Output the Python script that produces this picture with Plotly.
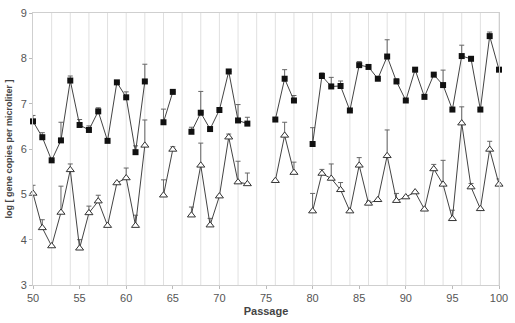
import plotly.graph_objects as go

passage = list(range(50, 101))

# Square series (upper) and triangle series (lower); missing passages are absent
sq_vals = {
    50: 6.61, 51: 6.26, 52: 5.75, 53: 6.19, 54: 7.51, 55: 6.53, 56: 6.42, 57: 6.83,
    58: 6.18, 59: 7.47, 60: 7.14, 61: 5.93, 62: 7.49, 64: 6.59, 65: 7.26,
    67: 6.38, 68: 6.80, 69: 6.44, 70: 6.86, 71: 7.71, 72: 6.63, 73: 6.56,
    76: 6.65, 77: 7.55, 78: 7.07, 80: 6.11, 81: 7.61, 82: 7.38, 83: 7.39,
    84: 6.85, 85: 7.85, 86: 7.81, 87: 7.55, 88: 8.04, 89: 7.49, 90: 7.07,
    91: 7.75, 92: 7.15, 93: 7.64, 94: 7.41, 95: 6.87, 96: 8.05, 97: 7.99,
    98: 6.87, 99: 8.49, 100: 7.75,
}
sq_err = {
    50: 0.13, 51: 0.10, 53: 0.40, 54: 0.10, 55: 0.12, 56: 0.09, 57: 0.08,
    60: 0.12, 61: 0.14, 62: 0.38, 64: 0.29, 67: 0.10, 68: 0.47, 72: 0.35,
    73: 0.14, 77: 0.20, 78: 0.11, 80: 0.36, 81: 0.07, 82: 0.20, 83: 0.11,
    85: 0.08, 88: 0.37, 89: 0.06, 94: 0.33, 96: 0.24, 99: 0.09,
}
tri_vals = {
    50: 5.02, 51: 4.26, 52: 3.86, 53: 4.60, 54: 5.54, 55: 3.81, 56: 4.59, 57: 4.85,
    58: 4.31, 59: 5.25, 60: 5.36, 61: 4.31, 62: 6.08, 64: 4.98, 65: 5.99,
    67: 4.54, 68: 5.64, 69: 4.32, 70: 4.96, 71: 6.26, 72: 5.27, 73: 5.23,
    76: 5.30, 77: 6.30, 78: 5.48, 80: 4.63, 81: 5.46, 82: 5.35, 83: 5.10,
    84: 4.63, 85: 5.64, 86: 4.80, 87: 4.88, 88: 5.85, 89: 4.86, 90: 4.94,
    91: 5.05, 92: 4.67, 93: 5.56, 94: 5.22, 95: 4.46, 96: 6.57, 97: 5.16,
    98: 4.68, 99: 5.99, 100: 5.22,
}
tri_err = {
    50: 0.18, 51: 0.18, 53: 0.58, 54: 0.13, 55: 0.19, 56: 0.15, 57: 0.13,
    60: 0.22, 61: 0.23, 62: 0.56, 64: 0.34, 65: 0.06, 67: 0.18, 68: 0.49,
    69: 0.15, 71: 0.07, 72: 0.46, 73: 0.24, 77: 0.29, 78: 0.23, 80: 0.39,
    81: 0.09, 82: 0.32, 83: 0.16, 85: 0.17, 86: 0.05, 88: 0.57, 89: 0.16,
    93: 0.10, 94: 0.53, 95: 0.19, 96: 0.36, 97: 0.08, 99: 0.18, 100: 0.12,
}

x_ticks = [50, 55, 60, 65, 70, 75, 80, 85, 90, 95, 100]
y_ticks = [3, 4, 5, 6, 7, 8, 9]

sq_y = [sq_vals.get(p) for p in passage]
sq_e = [sq_err.get(p, 0) for p in passage]
tri_y = [tri_vals.get(p) for p in passage]
tri_e = [tri_err.get(p, 0) for p in passage]
zeros = [0] * len(passage)

fig = go.Figure()
err_style = dict(type="data", symmetric=False, color="#666666", thickness=1, width=2.5)

fig.add_trace(go.Scatter(
    x=passage, y=tri_y, mode="lines+markers", connectgaps=False, cliponaxis=False,
    line=dict(color="#444444", width=1),
    marker=dict(symbol="triangle-up", size=7, color="white",
                line=dict(color="#333333", width=1)),
    error_y=dict(array=tri_e, arrayminus=zeros, **err_style),
    showlegend=False,
))
fig.add_trace(go.Scatter(
    x=passage, y=sq_y, mode="lines+markers", connectgaps=False, cliponaxis=False,
    line=dict(color="#444444", width=1),
    marker=dict(symbol="square", size=6, color="#111111",
                line=dict(color="#111111", width=0)),
    error_y=dict(array=sq_e, arrayminus=zeros, **err_style),
    showlegend=False,
))

fig.update_layout(
    width=515, height=323,
    margin=dict(l=33, r=7, t=12, b=38),
    paper_bgcolor="white", plot_bgcolor="white",
    font=dict(family="Liberation Sans, Arial, sans-serif", color="#555555"),
    xaxis=dict(
        range=[50, 100], tickvals=x_ticks, ticktext=[str(v) for v in x_ticks],
        showgrid=False, zeroline=False, ticklabeloverflow="allow",
        showline=True, linecolor="#cfcfcf", linewidth=1, mirror=True,
        ticks="outside", ticklen=3, tickcolor="#bbbbbb",
        tickfont=dict(size=11, color="#555555"),
        title=dict(text="<b>Passage</b>", font=dict(size=11, color="#444444"), standoff=4),
    ),
    yaxis=dict(
        range=[3, 9], tickvals=y_ticks,
        showgrid=False, zeroline=False,
        showline=True, linecolor="#cfcfcf", linewidth=1, mirror=True,
        ticks="outside", ticklen=3, tickcolor="#bbbbbb",
        tickfont=dict(size=11, color="#555555"),
        title=dict(text="<b>log [ gene copies per microliter ]</b>",
                   font=dict(size=9, color="#444444"), standoff=6),
    ),
)

# vertical gridlines every 2 passages
for gx in range(52, 101, 2):
    fig.add_shape(type="line", xref="x", yref="paper", x0=gx, x1=gx, y0=0, y1=1,
                  line=dict(color="#e0e0e0", width=1), layer="below")

fig.write_html("out.html")
